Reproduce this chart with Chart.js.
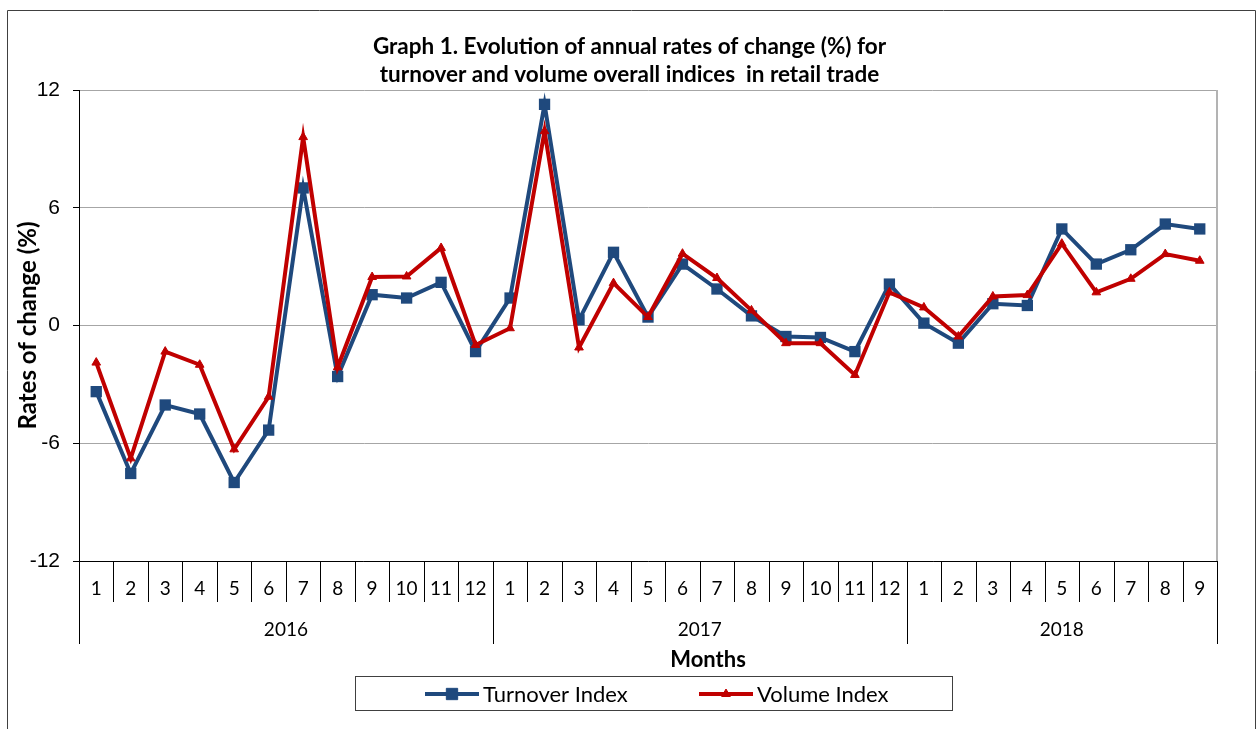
<!DOCTYPE html>
<html>
<head>
<meta charset="utf-8">
<script src="https://cdn.jsdelivr.net/npm/chart.js@4/dist/chart.umd.min.js"></script>
<style>
  html, body { margin: 0; padding: 0; background: #fff; }
  canvas { display: block; }
</style>
</head>
<body>
<canvas id="chart" width="1259" height="729"></canvas>
<script>
// --- data ---
const title = ['Graph 1. Evolution of annual rates of change (%) for',
               'turnover and volume overall indices  in retail trade'];
const months = ['1','2','3','4','5','6','7','8','9','10','11','12',
                '1','2','3','4','5','6','7','8','9','10','11','12',
                '1','2','3','4','5','6','7','8','9'];
const years = ['2016', '2017', '2018'];
const yearSizes = [12, 12, 9];
const turnover = [-3.37, -7.54, -4.05, -4.51, -8.0, -5.33, 7.01, -2.6, 1.57, 1.40, 2.2, -1.33,
                  1.40, 11.27, 0.29, 3.73, 0.43, 3.13, 1.86, 0.49, -0.56, -0.61, -1.33, 2.11,
                  0.12, -0.90, 1.11, 1.02, 4.92, 3.13, 3.86, 5.17, 4.92];
const volume = [-1.89, -6.77, -1.33, -2.0, -6.31, -3.63, 9.6, -2.13, 2.47, 2.5, 3.95, -0.99,
                -0.14, 9.9, -1.12, 2.16, 0.43, 3.66, 2.42, 0.77, -0.90, -0.90, -2.52, 1.69,
                0.92, -0.56, 1.48, 1.55, 4.17, 1.69, 2.38, 3.64, 3.30];
const yTicks = [-12, -6, 0, 6, 12];

const BLUE = '#1f497d';
const RED = '#c00000';

// --- extras drawn around the plot: frame, title, category boxes, years, legend ---
const decor = {
  id: 'decor',
  afterDraw(chart) {
    const ctx = chart.ctx;
    const a = chart.chartArea;
    const xs = chart.scales.x;
    const edge = i => i === 0 ? a.left : (i === months.length ? a.right :
      (xs.getPixelForValue(i - 1) + xs.getPixelForValue(i)) / 2);
    ctx.save();
    // outer frame
    ctx.strokeStyle = '#404040';
    ctx.lineWidth = 1;
    ctx.beginPath();
    ctx.moveTo(7.5, 740); ctx.lineTo(7.5, 10.5); ctx.lineTo(1255.5, 10.5); ctx.lineTo(1255.5, 740);
    ctx.stroke();
    // title
    ctx.fillStyle = '#000';
    ctx.textAlign = 'center';
    ctx.textBaseline = 'middle';
    ctx.font = 'bold 22.5px Lato';
    ctx.fillText(title[0], 629.5, 47);
    ctx.fillText(title[1], 629.5, 75);
    // right plot border
    ctx.strokeStyle = '#b3b3b3';
    ctx.lineWidth = 2;
    ctx.beginPath();
    ctx.moveTo(a.right, a.top); ctx.lineTo(a.right, a.bottom);
    ctx.stroke();
    // month boxes
    ctx.strokeStyle = '#000';
    ctx.lineWidth = 1;
    for (let i = 0; i <= months.length; i++) {
      const x = Math.round(edge(i)) + 0.5;
      ctx.beginPath();
      ctx.moveTo(x, a.bottom); ctx.lineTo(x, a.bottom + 41);
      ctx.stroke();
    }
    // years
    ctx.font = '19px Lato';
    let start = 0;
    years.forEach((y, k) => {
      const end = start + yearSizes[k];
      [start, end].forEach(i => {
        const x = Math.round(edge(i)) + 0.5;
        ctx.beginPath();
        ctx.moveTo(x, a.bottom); ctx.lineTo(x, a.bottom + 83);
        ctx.stroke();
      });
      ctx.fillText(y, (edge(start) + edge(end)) / 2, 630);
      start = end;
    });
    // axis title
    ctx.font = 'bold 22px Lato';
    ctx.fillText('Months', 708, 660);
    // legend
    ctx.strokeStyle = '#404040';
    ctx.strokeRect(355.5, 676.5, 597, 34);
    const items = [{ ds: 0, x: 425 }, { ds: 1, x: 699 }];
    ctx.font = '22px Lato';
    ctx.textAlign = 'left';
    items.forEach(it => {
      const ds = chart.data.datasets[it.ds];
      ctx.strokeStyle = ds.borderColor;
      ctx.lineWidth = 4;
      ctx.beginPath();
      ctx.moveTo(it.x, 694); ctx.lineTo(it.x + 54, 694);
      ctx.stroke();
      ctx.fillStyle = ds.borderColor;
      ctx.lineWidth = 1;
      Chart.helpers.drawPoint(ctx, { pointStyle: ds.pointStyle, radius: ds.pointRadius, borderWidth: 1 }, it.x + 27, 694);
      ctx.fillStyle = '#000';
      ctx.fillText(ds.label, it.x + 58, 695);
    });
    ctx.restore();
  }
};

new Chart(document.getElementById('chart'), {
  type: 'line',
  data: {
    labels: months,
    datasets: [
      {
        label: 'Turnover Index',
        data: turnover,
        borderColor: BLUE,
        backgroundColor: BLUE,
        borderWidth: 4,
        pointStyle: 'rect',
        pointRadius: 8,
        pointBorderWidth: 0,
        tension: 0,
        order: 1
      },
      {
        label: 'Volume Index',
        data: volume,
        borderColor: RED,
        backgroundColor: RED,
        borderWidth: 4,
        pointStyle: 'triangle',
        pointRadius: 5,
        pointBorderWidth: 1,
        tension: 0,
        order: 0
      }
    ]
  },
  options: {
    responsive: false,
    animation: false,
    devicePixelRatio: 1,
    layout: { padding: { left: 0, right: 42, top: 90, bottom: 0 } },
    plugins: {
      legend: { display: false },
      tooltip: { enabled: false },
      title: { display: false }
    },
    scales: {
      x: {
        offset: true,
        grid: { display: false, drawTicks: false },
        border: { display: true, color: '#000', width: 1 },
        ticks: { color: '#000', font: { family: 'Lato', size: 19 }, padding: 16, maxRotation: 0, autoSkip: false },
        afterFit(s) { s.height = 168; }
      },
      y: {
        min: -12,
        max: 12,
        afterBuildTicks(s) { s.ticks = yTicks.map(v => ({ value: v })); },
        grid: { color: '#a6a6a6', lineWidth: 1, tickLength: 6, tickColor: '#000' },
        border: { display: true, color: '#000', width: 1 },
        ticks: { color: '#000', font: { family: 'Liberation Sans', size: 21 }, padding: 13 },
        title: {
          display: true,
          text: 'Rates of change (%)',
          color: '#000',
          font: { family: 'Lato', size: 24, weight: 'bold' },
          padding: { top: 14, bottom: 0 }
        },
        afterFit(s) { s.width = 79; }
      }
    }
  },
  plugins: [decor]
});
</script>
</body>
</html>
